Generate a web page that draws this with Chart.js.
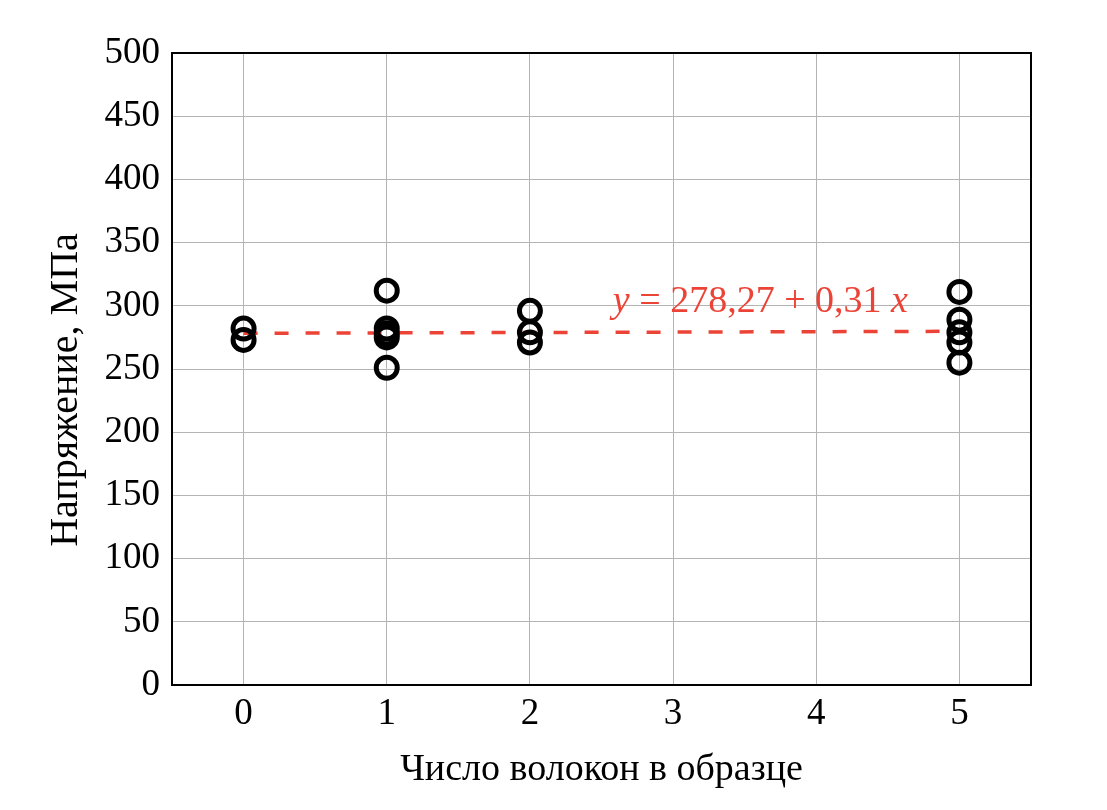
<!DOCTYPE html>
<html>
<head>
<meta charset="utf-8">
<script src="https://cdn.jsdelivr.net/npm/chart.js@4/dist/chart.umd.min.js"></script>
<style>
  html, body { margin: 0; padding: 0; background: #fff; }
  #wrap { width: 1107px; height: 810px; }
</style>
</head>
<body>
<div id="wrap"><canvas id="chart"></canvas></div>
<script>
// data
const fiberCount = [0, 0, 1, 1, 1, 1, 1, 2, 2, 2, 5, 5, 5, 5, 5];
const stress = [282, 273, 312, 282, 278, 275, 251, 296, 279, 271, 311, 289, 279, 271, 255];

// fit line y = 278,27 + 0,31 x
const fitX = [0, 5];
const fitY = [278.27, 279.82];
const fitLabel = ["y", " = 278,27 + 0,31 ", "x"];

const xTicks = [0, 1, 2, 3, 4, 5];
const yTitle = "Напряжение, МПа";

const serif = "'Liberation Serif', 'Times New Roman', serif";
const red = "#ec4337";

const points = fiberCount.map((v, i) => ({ x: v, y: stress[i] }));
const fitPoints = fitX.map((v, i) => ({ x: v, y: fitY[i] }));

// frame round the plot, y title, equation text
const extras = {
  id: "extras",
  afterDatasetsDraw(chart) {
    const ctx = chart.ctx;
    const a = chart.chartArea;
    ctx.save();
    ctx.strokeStyle = "#000";
    ctx.lineWidth = 2;
    ctx.strokeRect(a.left, a.top, a.right - a.left, a.bottom - a.top);

    // y title, sits a bit below the plot middle like the original
    ctx.save();
    ctx.translate(66, (a.top + a.bottom) / 2 + 21);
    ctx.rotate(-Math.PI / 2);
    ctx.font = "40px " + serif;
    ctx.fillStyle = "#000";
    ctx.textAlign = "center";
    ctx.textBaseline = "middle";
    ctx.fillText(yTitle, 0, 0);
    ctx.restore();

    // equation
    const xs = chart.scales.x, ys = chart.scales.y;
    const size = 38;
    ctx.font = size + "px " + serif;
    const wMid = ctx.measureText(fitLabel[1]).width;
    ctx.font = "italic " + size + "px " + serif;
    const wY = ctx.measureText(fitLabel[0]).width;
    const wX = ctx.measureText(fitLabel[2]).width;
    let x = xs.getPixelForValue(3.61) - (wY + wMid + wX) / 2;
    const y = ys.getPixelForValue(303);
    ctx.fillStyle = red;
    ctx.textBaseline = "middle";
    ctx.textAlign = "left";
    ctx.fillText(fitLabel[0], x, y);
    x += wY;
    ctx.font = size + "px " + serif;
    ctx.fillText(fitLabel[1], x, y);
    x += wMid;
    ctx.font = "italic " + size + "px " + serif;
    ctx.fillText(fitLabel[2], x, y);
    ctx.restore();
  }
};

new Chart(document.getElementById("chart"), {
  type: "scatter",
  data: {
    datasets: [
      {
        label: "fit",
        type: "line",
        data: fitPoints,
        borderColor: red,
        borderWidth: 3.5,
        borderDash: [14, 17],
        pointRadius: 0,
        fill: false,
        order: 2
      },
      {
        label: "data",
        data: points,
        pointRadius: 10.5,
        pointBorderWidth: 5,
        pointBorderColor: "#000",
        pointBackgroundColor: "rgba(0,0,0,0)",
        order: 1
      }
    ]
  },
  options: {
    responsive: true,
    maintainAspectRatio: false,
    animation: false,
    layout: { padding: { top: 53, right: 76, left: 0, bottom: 0 } },
    plugins: { legend: { display: false }, tooltip: { enabled: false } },
    scales: {
      x: {
        type: "linear",
        min: -0.5,
        max: 5.5,
        afterBuildTicks: (s) => { s.ticks = xTicks.map(v => ({ value: v })); },
        afterFit: (s) => { s.height = 125; },
        grid: { color: "#b4b4b4", lineWidth: 1, drawTicks: false },
        border: { color: "#000", width: 2 },
        ticks: { color: "#000", font: { family: serif, size: 37 }, padding: 7 },
        title: {
          display: true,
          text: "Число волокон в образце",
          color: "#000",
          font: { family: serif, size: 38 },
          padding: { top: 0, bottom: 17 }
        }
      },
      y: {
        min: 0,
        max: 500,
        afterFit: (s) => { s.width = 172; },
        grid: { color: "#b4b4b4", lineWidth: 1, drawTicks: false },
        border: { color: "#000", width: 2 },
        ticks: { stepSize: 50, color: "#000", font: { family: serif, size: 37 }, padding: 12 },
        title: { display: false }
      }
    }
  },
  plugins: [extras]
});
</script>
</body>
</html>
